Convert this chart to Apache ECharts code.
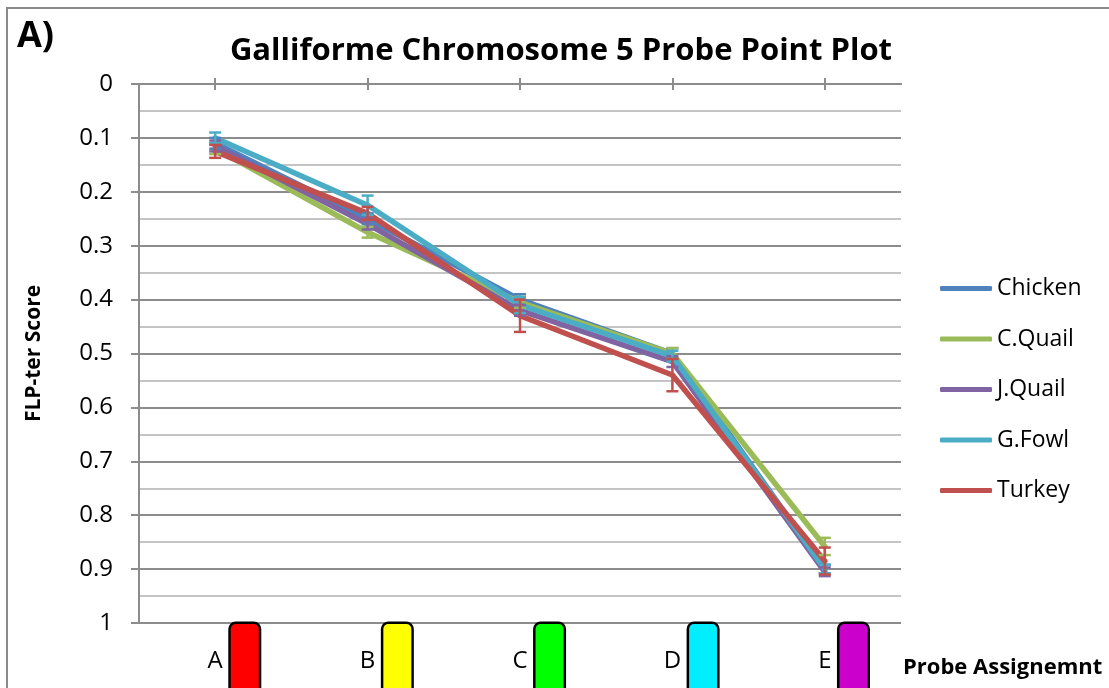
<!DOCTYPE html>
<html>
<head>
<meta charset="utf-8">
<script src="https://cdn.jsdelivr.net/npm/echarts@6/dist/echarts.min.js"></script>
<style>
  html, body { margin: 0; padding: 0; background: #fff; }
  #chart { width: 1109px; height: 688px; }
</style>
</head>
<body>
<div id="chart"></div>
<script>
// Probe assignments along the chromosome and their marker colours
const categories = ['A', 'B', 'C', 'D', 'E'];
const probeColors = ['#FF0000', '#FFFF00', '#00FF00', '#00EEFF', '#CC00CC'];

// Mean FLP-ter score for each species at each probe
const chicken = [0.11, 0.25, 0.40, 0.50, 0.90];
const cQuail  = [0.12, 0.275, 0.405, 0.50, 0.858];
const jQuail  = [0.115, 0.26, 0.42, 0.515, 0.905];
const gFowl   = [0.10, 0.225, 0.41, 0.505, 0.90];
const turkey  = [0.125, 0.24, 0.43, 0.54, 0.885];

// Error (± half-range) for each mean
const chickenErr = [0.01, 0.01, 0.01, 0.01, 0.008];
const cQuailErr  = [0.01, 0.01, 0.01, 0.01, 0.016];
const jQuailErr  = [0.01, 0.01, 0.01, 0.01, 0.008];
const gFowlErr   = [0.01, 0.018, 0.015, 0.01, 0.008];
const turkeyErr  = [0.012, 0.012, 0.03, 0.03, 0.025];

const yTicks = [0, 0.1, 0.2, 0.3, 0.4, 0.5, 0.6, 0.7, 0.8, 0.9, 1];

const species = [
  { name: 'Chicken',  color: '#4F81BD', values: chicken, err: chickenErr },
  { name: 'C.Quail',  color: '#9BBB59', values: cQuail,  err: cQuailErr },
  { name: 'J.Quail',  color: '#8064A2', values: jQuail,  err: jQuailErr },
  { name: 'G.Fowl',   color: '#4BACC6', values: gFowl,   err: gFowlErr },
  { name: 'Turkey',   color: '#C0504D', values: turkey,  err: turkeyErr }
];

const FONT = '"Open Sans", Lato, sans-serif';

// Rich-text styles: letter centred on the tick, then a rounded colour block to its right
const rich = {
  sp: { width: 36 },
  t: { fontSize: 24, fontFamily: FONT, color: '#000', padding: [0, 8, 0, 0] }
};
categories.forEach((c, i) => {
  rich['box' + i] = {
    width: 28, height: 74,
    backgroundColor: probeColors[i],
    borderColor: '#000', borderWidth: 2.5, borderRadius: 5
  };
});

function errorBarSeries(s) {
  return {
    type: 'custom',
    name: s.name + ' error',
    z: 3,
    data: s.values.map((v, i) => [i, v, s.err[i]]),
    encode: { x: 0, y: 1 },
    renderItem: function (params, api) {
      const x = api.value(0);
      const v = api.value(1);
      const e = api.value(2);
      const top = api.coord([x, v - e]);
      const bot = api.coord([x, v + e]);
      const hw = 6;
      const style = { stroke: s.color, lineWidth: 2.5 };
      return {
        type: 'group',
        children: [
          { type: 'line', shape: { x1: top[0], y1: top[1], x2: bot[0], y2: bot[1] }, style: style },
          { type: 'line', shape: { x1: top[0] - hw, y1: top[1], x2: top[0] + hw, y2: top[1] }, style: style },
          { type: 'line', shape: { x1: bot[0] - hw, y1: bot[1], x2: bot[0] + hw, y2: bot[1] }, style: style }
        ]
      };
    }
  };
}

const chart = echarts.init(document.getElementById('chart'), null, { renderer: 'canvas' });

const series = [];
species.forEach(s => {
  series.push({
    type: 'line',
    name: s.name,
    data: s.values,
    color: s.color,
    lineStyle: { width: 5.5, color: s.color, join: 'round', cap: 'round' },
    symbol: 'none',
    z: 2,
    animation: false
  });
});
species.forEach(s => series.push(errorBarSeries(s)));

const option = {
  animation: false,
  backgroundColor: '#fff',
  title: {
    text: 'Galliforme Chromosome 5 Probe Point Plot',
    left: 556,
    textAlign: 'center',
    top: 31,
    textStyle: { fontSize: 31, fontWeight: 'bold', fontFamily: FONT, color: '#000' }
  },
  graphic: [
    {
      type: 'rect',
      shape: { x: 7, y: 8, width: 1120, height: 700 },
      style: { fill: 'none', stroke: '#8A8A8A', lineWidth: 2 },
      silent: true
    },
    {
      type: 'text',
      left: 17,
      top: 19,
      style: { text: 'A)', fontSize: 36, fontWeight: 'bold', fontFamily: FONT, fill: '#000' }
    },
    {
      type: 'text',
      left: 903,
      top: 657,
      style: { text: 'Probe Assignemnt', fontSize: 22, fontWeight: 'bold', fontFamily: FONT, fill: '#000' }
    }
  ],
  legend: {
    orient: 'vertical',
    left: 940,
    top: 277,
    padding: 0,
    icon: 'roundRect',
    itemWidth: 52,
    itemHeight: 5,
    itemGap: 27.5,
    data: species.map(s => s.name),
    textStyle: { fontSize: 23, fontFamily: FONT, color: '#000', lineHeight: 21, padding: [0, 0, 0, 0] }
  },
  grid: { left: 139, right: 208, top: 84, bottom: 65, containLabel: false, outerBoundsMode: 'none' },
  xAxis: [
    {
      type: 'category',
      data: categories,
      position: 'bottom',
      boundaryGap: true,
      axisLine: { show: true, lineStyle: { color: '#8C8C8C', width: 2 } },
      axisTick: { show: false },
      axisLabel: {
        margin: 1,
        interval: 0,
        formatter: (val, idx) => '{sp|}{t|' + val + '}{box' + idx + '|}',
        rich: rich
      }
    },
    {
      type: 'category',
      data: categories,
      position: 'top',
      boundaryGap: true,
      axisLine: { show: true, lineStyle: { color: '#8C8C8C', width: 2 } },
      axisTick: { show: true, alignWithLabel: true, length: 6, lineStyle: { color: '#8C8C8C', width: 2 } },
      axisLabel: { show: false }
    },
    {
      type: 'category',
      data: categories,
      position: 'top',
      boundaryGap: true,
      axisLine: { show: false },
      axisTick: { show: true, inside: true, alignWithLabel: true, length: 6, lineStyle: { color: '#8C8C8C', width: 2 } },
      axisLabel: { show: false }
    }
  ],
  yAxis: {
    type: 'value',
    inverse: true,
    min: yTicks[0],
    max: yTicks[yTicks.length - 1],
    interval: 0.1,
    axisLine: { show: true, lineStyle: { color: '#8C8C8C', width: 2 } },
    axisTick: { show: true, length: 8, lineStyle: { color: '#8C8C8C', width: 2 } },
    axisLabel: {
      margin: 26,
      fontSize: 24,
      fontFamily: FONT,
      color: '#000',
      formatter: v => {
        const r = Math.round(v * 10) / 10;
        return yTicks.indexOf(r) >= 0 ? String(r) : '';
      }
    },
    splitLine: { show: true, lineStyle: { color: '#8C8C8C', width: 2 } },
    minorTick: { show: false, splitNumber: 2 },
    minorSplitLine: { show: true, lineStyle: { color: '#C4C4C4', width: 2 } },
    name: 'FLP-ter Score',
    nameLocation: 'middle',
    nameGap: 94,
    nameRotate: 90,
    nameTextStyle: { fontSize: 21, fontWeight: 'bold', fontFamily: FONT, color: '#000' }
  },
  series: series
};

chart.setOption(option);
</script>
</body>
</html>
